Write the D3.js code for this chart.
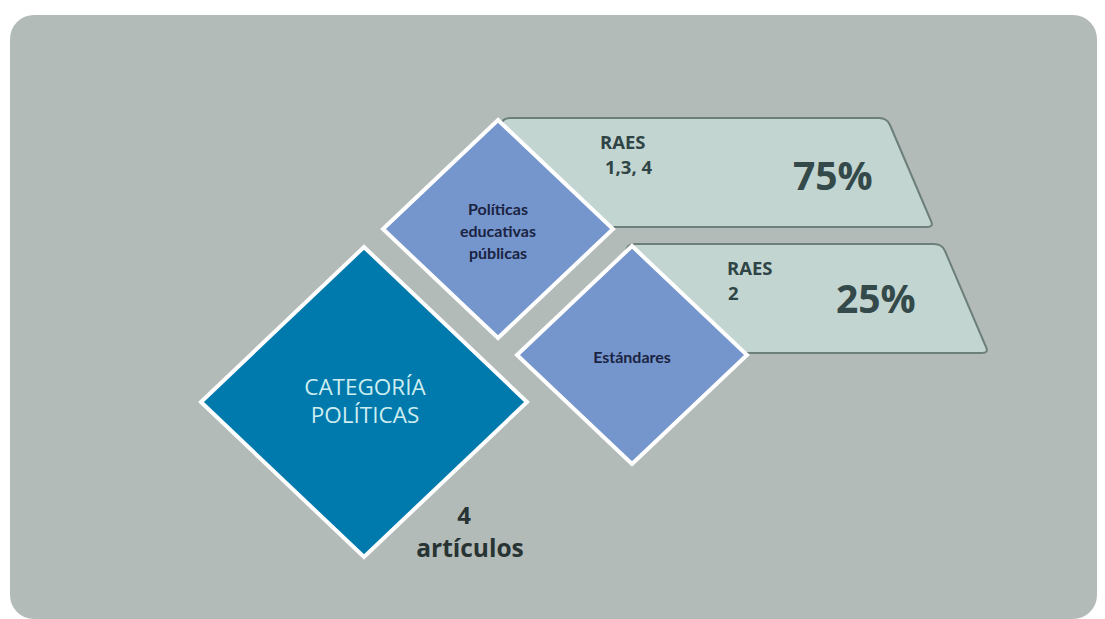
<!DOCTYPE html>
<html>
<head>
<meta charset="utf-8">
<style>
  body { margin: 0; background: #ffffff; }
  svg { display: block; }
</style>
<script src="https://d3js.org/d3.v7.min.js"></script>
</head>
<body>
<div id="my_dataviz"></div>
<script>
// data
var category = ["CATEGORÍA", "POLÍTICAS"];
var articleCount = 4;
var subcategories = [["Políticas", "educativas", "públicas"], ["Estándares"]];
var raesLabels = [["RAES", "1,3, 4"], ["RAES", "2"]];
var percentages = [75, 25];

var width = 1105, height = 619;

var svg = d3.select("#my_dataviz")
  .append("svg")
    .attr("width", width)
    .attr("height", height);

// panel
svg.append("rect")
  .attr("x", 10).attr("y", 15)
  .attr("width", 1087).attr("height", 604)
  .attr("rx", 24)
  .attr("fill", "#b3bbb8");

// row positions for the sub items
var rowX = d3.scaleLinear().domain([0, 1]).range([498, 632]);
var rowY = d3.scaleLinear().domain([0, 1]).range([229, 355]);
// right end of each banner (top edge)
var bannerEnd = d3.scaleLinear().domain([0, 1]).range([885, 940]);

function diamond(cx, cy, hx, hy) {
  return "M" + cx + "," + (cy - hy) + "L" + (cx + hx) + "," + cy +
         "L" + cx + "," + (cy + hy) + "L" + (cx - hx) + "," + cy + "Z";
}

function trapezoid(x0, x1, cy) {
  var top = cy - 111, bot = cy - 2;
  return "M" + x0 + "," + (top + 9) +
    "Q" + x0 + "," + top + " " + (x0 + 9) + "," + top +
    "L" + (x1 - 6) + "," + top +
    "Q" + (x1 + 2) + "," + top + " " + (x1 + 5) + "," + (top + 7) +
    "L" + (x1 + 46) + "," + (bot - 6) +
    "Q" + (x1 + 49) + "," + bot + " " + (x1 + 42) + "," + bot +
    "L" + x0 + "," + bot + "Z";
}

var idx = d3.range(percentages.length);

// trapezoid banners
var banners = svg.selectAll(".banner")
  .data(idx)
  .enter()
  .append("g")
    .attr("class", "banner");

banners.append("path")
  .attr("d", function(i){ return trapezoid(rowX(i) + (i == 0 ? 3 : -6), bannerEnd(i), rowY(i)); })
  .attr("fill", "#c3d5d1")
  .attr("stroke", "#6d7f7b")
  .attr("stroke-width", 2);

banners.each(function(i) {
  var g = d3.select(this);
  var cx = rowX(i), cy = rowY(i);
  var tx = i == 0 ? cx + 102 : cx + 95;
  g.append("text")
    .attr("x", tx).attr("y", cy - 80)
    .text(raesLabels[i][0]);
  g.append("text")
    .attr("x", tx + (i == 0 ? 5 : 1)).attr("y", cy - 55)
    .text(raesLabels[i][1]);
  g.selectAll("text")
    .attr("font-family", "'Open Sans', sans-serif")
    .attr("font-weight", 700)
    .attr("font-size", 18.5)
    .attr("fill", "#2f4444");
  g.append("text")
    .attr("x", i == 0 ? cx + 295 : cx + 204)
    .attr("y", i == 0 ? cy - 39 : cy - 42)
    .attr("font-family", "'Open Sans', sans-serif")
    .attr("font-weight", 700)
    .attr("font-size", 39)
    .attr("fill", "#34494a")
    .text(percentages[i] + "%");
});

// big category diamond
svg.append("path")
  .attr("d", diamond(364, 402, 163, 155))
  .attr("fill", "#0079ad")
  .attr("stroke", "#ffffff")
  .attr("stroke-width", 4)
  .attr("stroke-linejoin", "miter");

svg.selectAll(".cat")
  .data(category)
  .enter()
  .append("text")
    .attr("x", 365)
    .attr("y", function(d, i){ return 395 + i * 28; })
    .attr("text-anchor", "middle")
    .attr("font-family", "'Open Sans', sans-serif")
    .attr("font-size", 22.5)
    .attr("fill", "#cdeef0")
    .text(function(d){ return d; });

// sub diamonds
svg.selectAll(".sub")
  .data(idx)
  .enter()
  .append("path")
    .attr("d", function(i){ return diamond(rowX(i), rowY(i), 115, 109); })
    .attr("fill", "#7596cc")
    .attr("stroke", "#ffffff")
    .attr("stroke-width", 4);

idx.forEach(function(i) {
  var lines = subcategories[i];
  svg.selectAll(null)
    .data(lines)
    .enter()
    .append("text")
      .attr("x", rowX(i))
      .attr("y", function(d, j){ return rowY(i) + 8 + (lines.length > 1 ? (j - 1) * 22 : 0); })
      .attr("text-anchor", "middle")
      .attr("font-family", "Lato, sans-serif")
      .attr("font-weight", 700)
      .attr("font-size", 16)
      .attr("fill", "#1a2342")
      .text(function(d){ return d; });
});

// article count
svg.append("text")
  .attr("x", 464).attr("y", 524)
  .attr("text-anchor", "middle")
  .attr("font-family", "'Open Sans', sans-serif")
  .attr("font-weight", 700)
  .attr("font-size", 24)
  .attr("fill", "#283333")
  .text(articleCount);

svg.append("text")
  .attr("x", 470).attr("y", 557)
  .attr("text-anchor", "middle")
  .attr("font-family", "'Open Sans', sans-serif")
  .attr("font-weight", 700)
  .attr("font-size", 24.5)
  .attr("fill", "#283333")
  .text("artículos");
</script>
</body>
</html>
